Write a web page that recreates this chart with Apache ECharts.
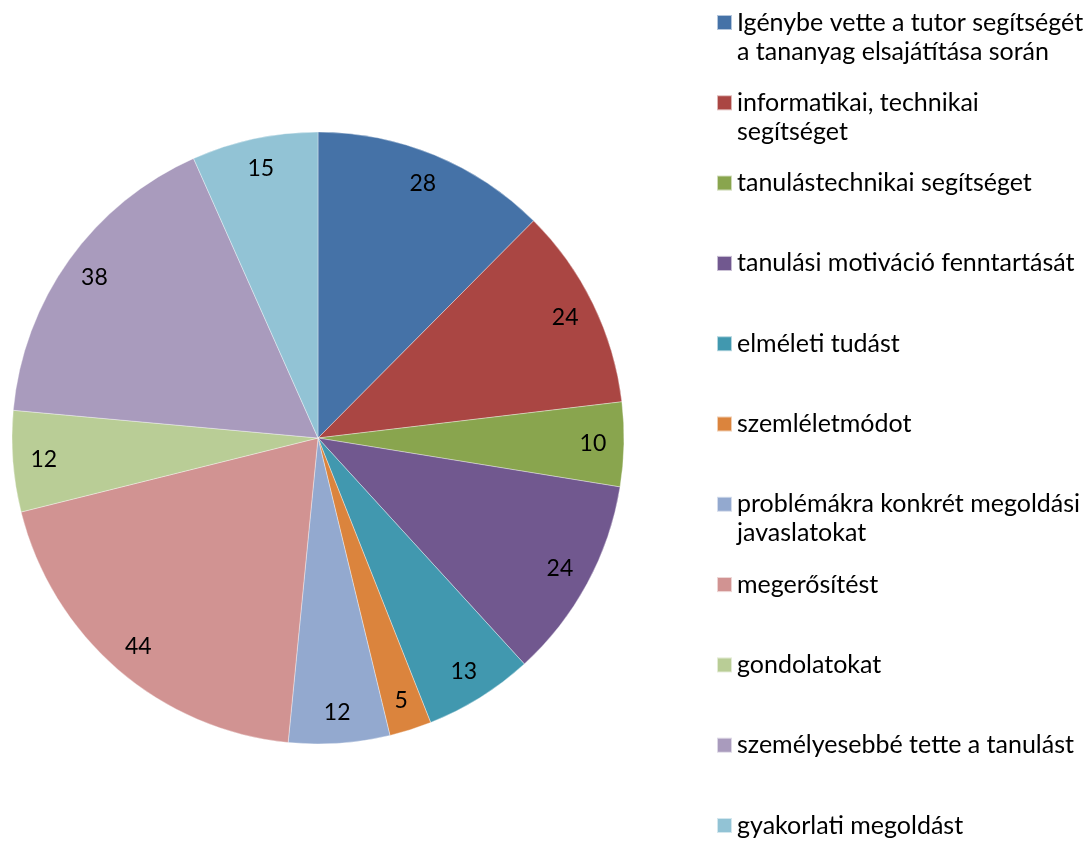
<!DOCTYPE html>
<html>
<head>
<meta charset="utf-8">
<script src="https://cdn.jsdelivr.net/npm/echarts@6/dist/echarts.min.js"></script>
<style>html,body{margin:0;padding:0;background:#fff}#c{width:1089px;height:841px}</style>
</head>
<body>
<div id="c"></div>
<script>
const categories = [
  'Igénybe vette a tutor segítségét\na tananyag elsajátítása során',
  'informatikai, technikai\nsegítséget',
  'tanulástechnikai segítséget',
  'tanulási motiváció fenntartását',
  'elméleti tudást',
  'szemléletmódot',
  'problémákra konkrét megoldási\njavaslatokat',
  'megerősítést',
  'gondolatokat',
  'személyesebbé tette a tanulást',
  'gyakorlati megoldást'
];
const values = [28, 24, 10, 24, 13, 5, 12, 44, 12, 38, 15];
const colors = ['#4572A7','#AA4643','#89A54E','#71588F','#4198AF','#DB843D','#93A9CF','#D19392','#B9CD96','#A99BBD','#92C3D5'];

const FONT = 'Lato';
const FS = 25;
const LFS = 23;
const LH = 29;
const ICON = 15;
const legendLeft = 716;
const firstCenter = 22.5;
const step = 80.3;

const data = categories.map((n, i) => ({ name: n, value: values[i], itemStyle: { color: colors[i] } }));

const legends = categories.map((n, i) => {
  const multi = n.indexOf('\n') >= 0;
  const nLines = multi ? 3 : 1;
  const center = firstCenter + step * i;
  return {
    orient: 'vertical',
    left: legendLeft,
    top: center - nLines * LH / 2,
    padding: 0,
    itemWidth: ICON,
    itemHeight: ICON,
    itemGap: 0,
    icon: 'rect',
    selectedMode: false,
    formatter: function (name) { return name.indexOf('\n') >= 0 ? ' \n' + name : name; },
    data: [n],
    textStyle: { fontFamily: FONT, fontSize: FS, color: '#000', lineHeight: LH }
  };
});

const chart = echarts.init(document.getElementById('c'), null, { renderer: 'canvas' });
chart.setOption({
  animation: false,
  legend: legends,
  series: [
    {
      type: 'pie',
      center: [318, 438],
      radius: [0, 306],
      startAngle: 90,
      clockwise: true,
      data: data,
      label: { show: false },
      labelLine: { show: false },
      itemStyle: { borderColor: 'rgba(255,255,255,0.6)', borderWidth: 0.6 },
      emphasis: { disabled: true },
      silent: true
    },
    {
      type: 'pie',
      center: [318, 438],
      radius: [238, 306],
      startAngle: 90,
      clockwise: true,
      data: categories.map((n, i) => ({ name: n, value: values[i] })),
      itemStyle: { color: 'rgba(0,0,0,0)' },
      label: {
        show: true, position: 'inside', formatter: '{c}',
        fontFamily: FONT, fontSize: LFS, color: '#000'
      },
      labelLine: { show: false },
      emphasis: { disabled: true },
      silent: true
    }
  ]
});
</script>
</body>
</html>
